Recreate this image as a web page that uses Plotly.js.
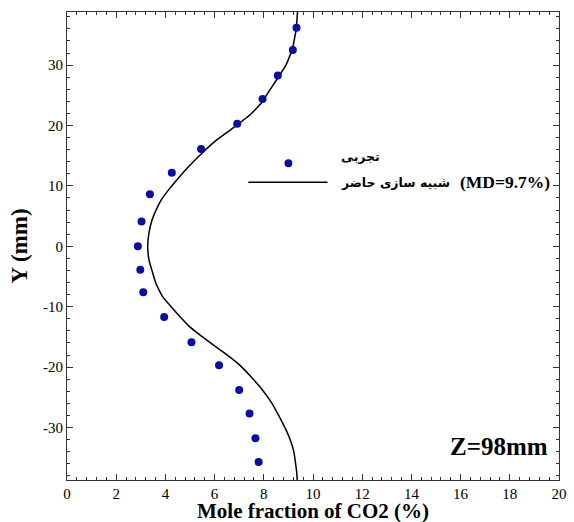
<!DOCTYPE html>
<html>
<head>
<meta charset="utf-8">
<script src="https://cdn.plot.ly/plotly-3.0.1.min.js"></script>
<style>html,body{margin:0;padding:0;background:#fff;}#chart{width:574px;height:522px;}</style>
</head>
<body>
<div id="chart"></div>
<script>
// Experimental data (تجربی)
const expX = [9.33, 9.18, 8.57, 7.95, 6.92, 5.45, 4.26, 3.37, 3.03, 2.88, 2.98, 3.10, 3.95, 5.06, 6.18, 7.00, 7.42, 7.66, 7.79];
const expY = [36.2, 32.5, 28.3, 24.4, 20.3, 16.1, 12.2, 8.6, 4.1, 0.0, -3.9, -7.6, -11.7, -15.9, -19.7, -23.8, -27.7, -31.8, -35.7];
// Present simulation (شبیه سازی حاضر)
const simX = [9.37, 9.32, 9.16, 8.90, 8.54, 8.20, 7.92, 7.48, 6.85, 6.11, 5.38, 4.90, 4.49, 4.12, 3.85, 3.62, 3.46, 3.33, 3.28, 3.33, 3.46, 3.62, 3.88, 4.34, 4.98, 5.67, 6.41, 7.00, 7.48, 7.89, 8.30, 8.63, 8.88, 9.07, 9.22, 9.29, 9.34, 9.36];
const simY = [38.8, 36.0, 32.6, 30.0, 27.7, 25.6, 23.8, 21.9, 19.9, 17.7, 15.0, 13.0, 11.1, 9.3, 7.8, 6.0, 4.4, 2.2, 0.0, -2.2, -4.1, -6.2, -8.3, -10.5, -13.3, -15.5, -17.7, -19.6, -21.6, -23.5, -25.8, -28.2, -30.2, -32.0, -34.0, -35.9, -37.5, -38.8];
const legendExp = 'تجربی';
const legendSim = 'شبیه سازی حاضر';
const mdText = '(MD=9.7%)';
const zText = 'Z=98mm';
const xTitle = 'Mole fraction of CO2 (%)';
const yTitle = 'Y (mm)';
const xTicks = [0, 2, 4, 6, 8, 10, 12, 14, 16, 18, 20];
const yTicks = [-30, -20, -10, 0, 10, 20, 30];

const blue = '#0b0ba6';
const serif = 'Liberation Serif, Times New Roman, serif';
const arab = 'DejaVu Sans, sans-serif';

const traces = [
  {x: simX, y: simY, mode: 'lines', line: {color: '#000', width: 1.5, shape: 'spline', smoothing: 0.3}, showlegend: false, hoverinfo: 'skip'},
  {x: expX, y: expY, mode: 'markers', marker: {color: blue, size: 8}, showlegend: false}
];

const axisCommon = {
  showline: true, linecolor: '#333', linewidth: 1, mirror: 'ticks',
  ticks: 'inside', ticklen: 6, tickcolor: '#333', tickwidth: 1,
  showgrid: false, zeroline: false,
  tickfont: {family: serif, size: 15, color: '#000'}
};

const layout = {
  width: 574, height: 522,
  margin: {l: 67, r: 15, t: 12, b: 42},
  paper_bgcolor: '#fff', plot_bgcolor: '#fff',
  showlegend: false,
  xaxis: Object.assign({}, axisCommon, {
    range: [0, 20], tickvals: xTicks, ticktext: xTicks.map(String),
    minor: {dtick: 0.4, tick0: 0, ticks: 'inside', ticklen: 3, tickcolor: '#333'}
  }),
  yaxis: Object.assign({}, axisCommon, {
    range: [-38.7, 38.8], tickvals: yTicks, ticktext: yTicks.map(String),
    minor: {dtick: 2, tick0: 0, ticks: 'inside', ticklen: 3, tickcolor: '#333'},
    title: {text: '<b>' + yTitle + '</b>', font: {family: serif, size: 23, color: '#000'}, standoff: 8}
  }),
  shapes: [
    {type: 'line', xref: 'x', yref: 'y', x0: 7.37, x1: 10.59, y0: 10.6, y1: 10.6, line: {color: '#000', width: 1.5}},
    {type: 'circle', xref: 'x', yref: 'y', x0: 8.84, x1: 9.16, y0: 13.1, y1: 14.4, fillcolor: blue, line: {color: blue, width: 0}}
  ],
  annotations: [
    {xref: 'paper', yref: 'paper', x: 0.5, y: 0, xanchor: 'center', yanchor: 'middle', yshift: -31, text: '<b>' + xTitle + '</b>', showarrow: false, font: {family: serif, size: 21, color: '#000'}},
    {xref: 'x', yref: 'y', x: 11.04, y: 14.9, xanchor: 'left', yanchor: 'middle', text: '<b>' + legendExp + '</b>', showarrow: false, font: {family: arab, size: 12.5, color: '#000'}},
    {xref: 'x', yref: 'y', x: 11.04, y: 10.6, xanchor: 'left', yanchor: 'middle', text: '<b>' + legendSim + '</b>', showarrow: false, font: {family: arab, size: 12.5, color: '#000'}},
    {xref: 'x', yref: 'y', x: 15.9, y: 10.6, xanchor: 'left', yanchor: 'middle', text: '<b>' + mdText + '</b>', showarrow: false, font: {family: serif, size: 17.5, color: '#000'}},
    {xref: 'x', yref: 'y', x: 19.65, y: -33.2, xanchor: 'right', yanchor: 'middle', text: '<b>' + zText + '</b>', showarrow: false, font: {family: serif, size: 25, color: '#000'}}
  ]
};

Plotly.newPlot('chart', traces, layout, {displayModeBar: false, staticPlot: true});
</script>
</body>
</html>
